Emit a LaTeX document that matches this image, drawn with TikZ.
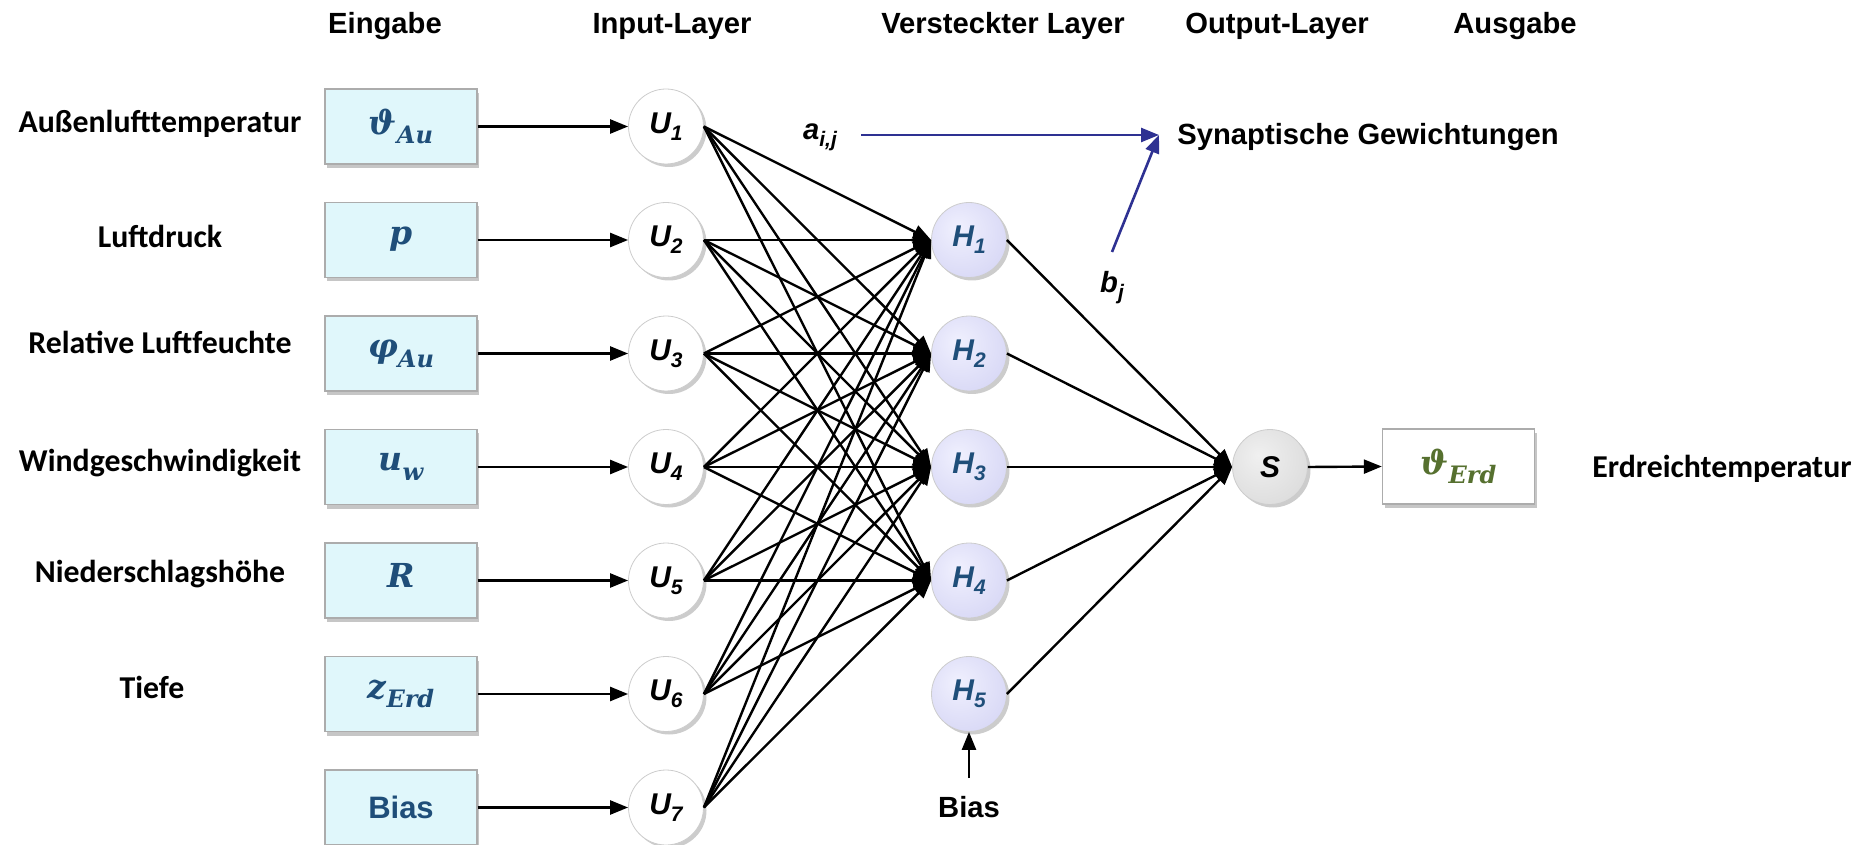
\documentclass[tikz,border=0pt]{standalone}
\usepackage{fontspec}
\setmainfont{Liberation Sans}
\newfontfamily\calib{Carlito}
\newfontfamily\mfont{DejaVu Serif}
\usetikzlibrary{shadows,arrows.meta}
\definecolor{boxblue}{RGB}{31,78,121}
\definecolor{boxfill}{RGB}{224,247,251}
\definecolor{hin}{RGB}{240,240,254}
\definecolor{hmid}{RGB}{218,218,246}
\definecolor{hout}{RGB}{178,178,222}
\definecolor{uout}{RGB}{185,185,185}
\definecolor{sin}{RGB}{240,240,240}
\definecolor{smid}{RGB}{222,222,222}
\definecolor{sout}{RGB}{165,165,165}
\definecolor{synblue}{RGB}{46,49,146}
\definecolor{outgreen}{RGB}{86,112,47}
\pgfdeclareradialshading{ushade}{\pgfpoint{-8bp}{8bp}}{color(0bp)=(white); color(34bp)=(white); color(50bp)=(uout); color(70bp)=(uout)}
\pgfdeclareradialshading{hshade}{\pgfpoint{-8bp}{8bp}}{color(0bp)=(hin); color(30bp)=(hmid); color(50bp)=(hout); color(70bp)=(hout)}
\pgfdeclareradialshading{sshade}{\pgfpoint{-8bp}{8bp}}{color(0bp)=(sin); color(30bp)=(smid); color(50bp)=(sout); color(70bp)=(sout)}
\newcommand\lowsub[1]{\raisebox{-0.45ex}{\fontsize{10.5}{11}\selectfont #1}}
\newcommand\msym[2]{{\mfont\bfseries\itshape\fontsize{16.5}{18}\selectfont #1\raisebox{-0.55ex}{\fontsize{12}{12}\selectfont #2}}}
\begin{document}
\begin{tikzpicture}[x=0.5pt,y=-0.5pt,
  hdr/.style={font=\fontsize{14.6}{17}\selectfont\bfseries, anchor=base, inner sep=0pt},
  lbl/.style={font=\calib\fontsize{15.9}{18}\selectfont\bfseries, anchor=base, inner sep=0pt},
  inbox/.style={rectangle, minimum width=76pt, minimum height=37.5pt, inner sep=0pt, fill=boxfill, draw=gray!65, line width=0.7pt, drop shadow={shadow xshift=1.2pt, shadow yshift=-2pt, opacity=0.45}, text=boxblue},
  outbox/.style={inbox, fill=white, text=outgreen},
  neuron/.style={circle, minimum size=37.5pt, inner sep=0pt, draw=gray!40, line width=0.4pt, drop shadow={shadow xshift=1.5pt, shadow yshift=-1.5pt, opacity=0.4}, font=\fontsize{15}{17}\selectfont\bfseries\itshape},
  uneu/.style={neuron, shade, shading=ushade},
  hneu/.style={neuron, shade, shading=hshade, text=boxblue},
  sneu/.style={neuron, shade, shading=sshade},
  conn/.style={line width=1.2pt, -{Triangle[length=9pt,width=7pt]}},
  synarr/.style={line width=1.3pt, draw=synblue, -{Triangle[length=9pt,width=7pt]}},
  plain/.style={font=\fontsize{14.6}{17}\selectfont\bfseries, anchor=base, inner sep=0pt},
]
\useasboundingbox (0,0) rectangle (1865,845);

% headers
\node[hdr] (hEin) at (385,34) {Eingabe};
\node[hdr] (hIn) at (672,34) {Input-Layer};
\node[hdr] (hHid) at (1003,34) {Versteckter Layer};
\node[hdr] (hOut) at (1277,34) {Output-Layer};
\node[hdr] (hAus) at (1515,34) {Ausgabe};

% left labels
\node[lbl] (L1) at (160,133) {Außenlufttemperatur};
\node[lbl] (L2) at (160,248) {Luftdruck};
\node[lbl] (L3) at (160,354) {Relative Luftfeuchte};
\node[lbl] (L4) at (160,472) {Windgeschwindigkeit};
\node[lbl] (L5) at (160,582) {Niederschlagshöhe};
\node[lbl] (L6) at (152,698) {Tiefe};

% input boxes
\node[inbox] (B1) at (401,126.5) {\msym{ϑ}{Au}};
\node[inbox] (B2) at (401,240) {\msym{p}{}};
\node[inbox] (B3) at (401,353.5) {\msym{φ}{Au}};
\node[inbox] (B4) at (401,467) {\msym{u}{w}};
\node[inbox] (B5) at (401,580.5) {\msym{R}{}};
\node[inbox] (B6) at (401,694) {\msym{z}{Erd}};
\node[inbox] (B7) at (401,807.5) {\fontsize{15.5}{17}\selectfont\bfseries Bias};

% input layer
\node[uneu] (U1) at (666,126.5) {U\lowsub{1}};
\node[uneu] (U2) at (666,240) {U\lowsub{2}};
\node[uneu] (U3) at (666,353.5) {U\lowsub{3}};
\node[uneu] (U4) at (666,467) {U\lowsub{4}};
\node[uneu] (U5) at (666,580.5) {U\lowsub{5}};
\node[uneu] (U6) at (666,694) {U\lowsub{6}};
\node[uneu] (U7) at (666,807.5) {U\lowsub{7}};

% hidden layer
\node[hneu] (H1) at (969,240) {H\lowsub{1}};
\node[hneu] (H2) at (969,353.5) {H\lowsub{2}};
\node[hneu] (H3) at (969,467) {H\lowsub{3}};
\node[hneu] (H4) at (969,580.5) {H\lowsub{4}};
\node[hneu] (H5) at (969,694) {H\lowsub{5}};

% output
\node[sneu] (S) at (1270,467) {S};
\node[outbox] (O) at (1458.5,466.5) {\msym{ϑ}{Erd}};
\node[lbl] (Lout) at (1722,477) {Erdreichtemperatur};

% connections
\foreach \i in {1,...,7} {
  \draw[conn] (B\i.east) -- (U\i.west);
  \foreach \j in {1,...,4} {
    \draw[conn] (U\i.east) -- (H\j.west);
  }
}
\foreach \j in {1,...,5} {
  \draw[conn] (H\j.east) -- (S.west);
}
\draw[conn] (S.east) -- (O.west);

% bias of hidden layer
\node[plain] (biasL) at (969,817) {Bias};
\coordinate (biasT) at (969,778);
\draw[conn] (biasT) -- (H5.south);

% synaptic weights
\node[plain, font=\fontsize{14.6}{17}\selectfont\bfseries\itshape] (aij) at (820,140) {a\lowsub{i,j}};
\node[plain, font=\fontsize{14.6}{17}\selectfont\bfseries\itshape] (bj) at (1112,293) {b\lowsub{j}};
\node[plain, anchor=base west] (syn) at (1177,145) {Synaptische Gewichtungen};
\coordinate (synTip) at (1159,135);
\coordinate (bjTop) at (1112,252);
\draw[synarr, shorten <=12pt] (aij.east |- synTip) -- (synTip);
\draw[synarr] (bjTop) -- (synTip);
\end{tikzpicture}
\end{document}
